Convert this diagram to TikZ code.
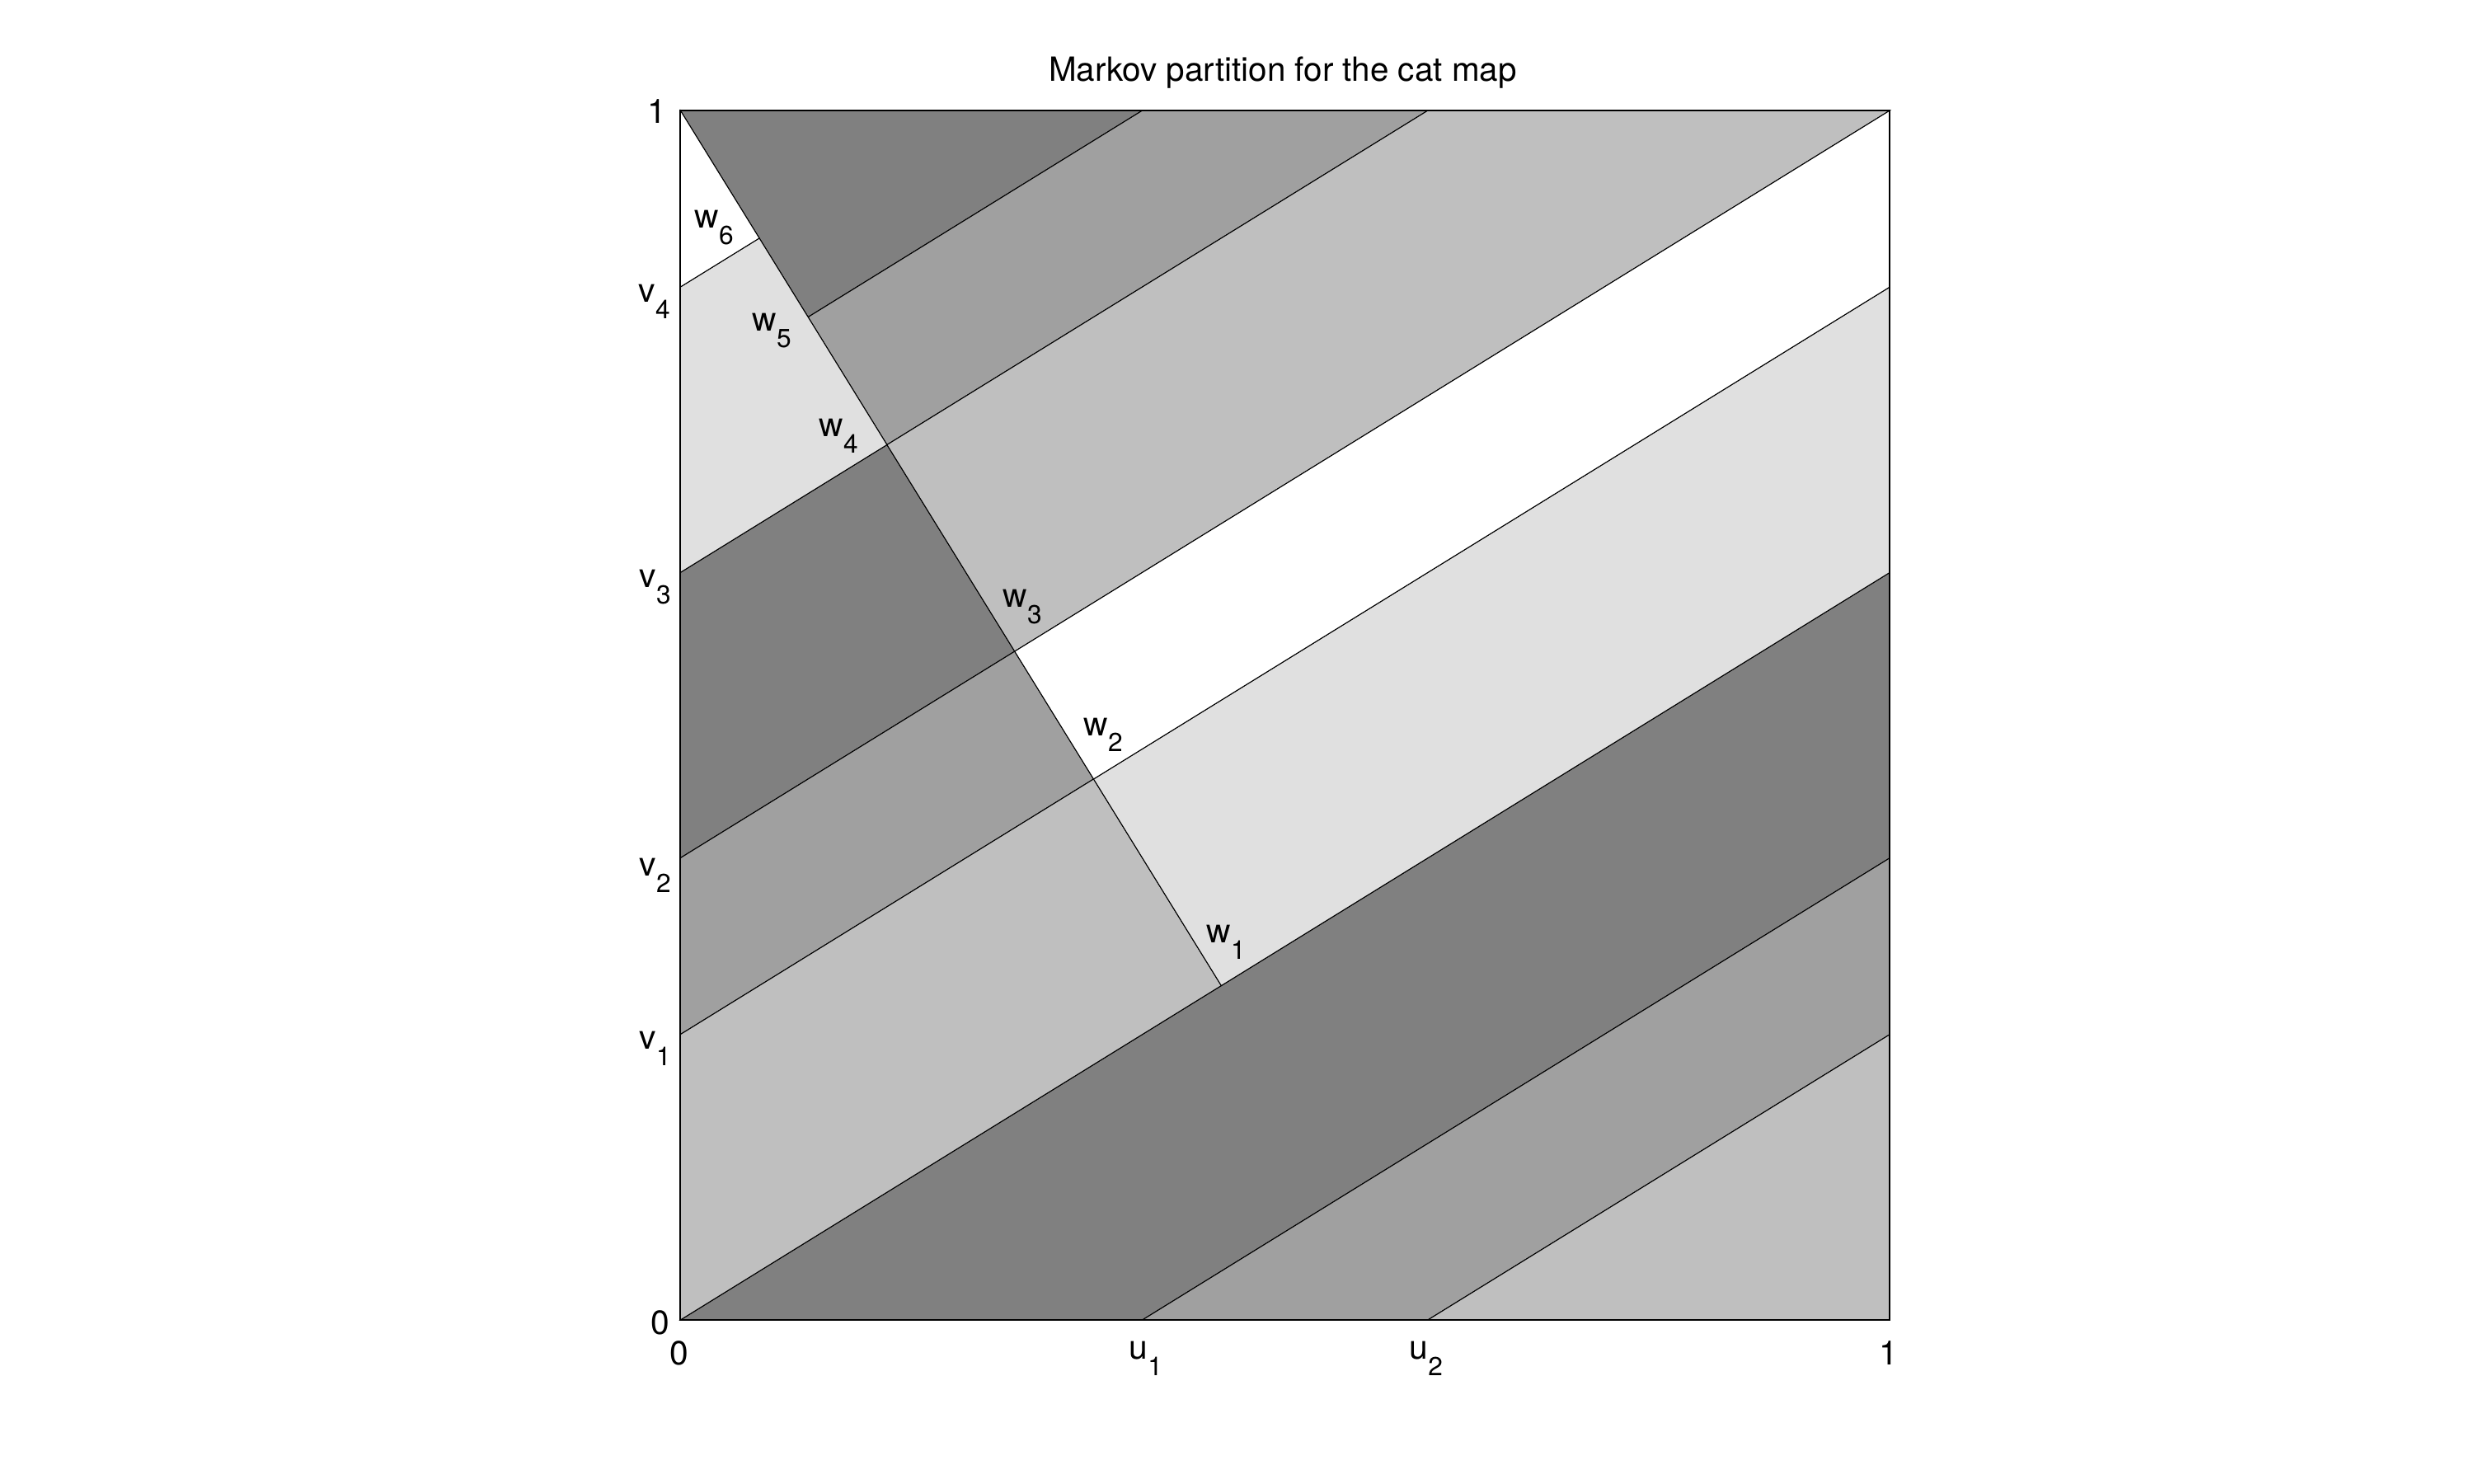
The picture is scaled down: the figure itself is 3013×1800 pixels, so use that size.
\documentclass[tikz,border=0pt]{standalone}
\usepackage{fontspec}
\newfontfamily\helv{TeX Gyre Heros}
\newcommand\lblfont{\helv\fontsize{11.6}{13}\selectfont}
\newcommand\ttlfont{\helv\fontsize{11.5}{13}\selectfont}
\newcommand\subfont{\helv\fontsize{9}{10}\selectfont}
\newcommand\sublab[2]{#1\raisebox{-2mm}{\subfont #2}}
\definecolor{gA}{gray}{0.5}
\definecolor{gB}{gray}{0.627}
\definecolor{gC}{gray}{0.75}
\definecolor{gD}{gray}{0.878}
\tikzset{
  edge/.style={draw=black, line width=0.3pt, line join=miter},
  frame/.style={draw=black, line width=0.55pt},
  lab/.style={anchor=base west, inner sep=0pt, font=\lblfont},
  tick/.style={inner sep=0pt, font=\lblfont}
}
\begin{document}
\begin{tikzpicture}[x=0.1mm,y=-0.1mm]
\useasboundingbox (0,0) rectangle (3013,1800);
\fill[white] (0,0) rectangle (3013,1800);
\begin{scope}[shift={(825.3,1601)}, x=146.7mm, y=146.7mm]
  \coordinate (O) at (0,0);
  \coordinate (A) at (1,0);
  \coordinate (B) at (1,1);
  \coordinate (C) at (0,1);
  \coordinate (U1) at (0.381966,0);
  \coordinate (U2) at (0.618034,0);
  \coordinate (R1) at (1,0.236068);
  \coordinate (R2) at (1,0.381966);
  \coordinate (R3) at (1,0.618034);
  \coordinate (R4) at (1,0.854102);
  \coordinate (V1) at (0,0.236068);
  \coordinate (V2) at (0,0.381966);
  \coordinate (V3) at (0,0.618034);
  \coordinate (V4) at (0,0.854102);
  \coordinate (T1) at (0.381966,1);
  \coordinate (T2) at (0.618034,1);
  \coordinate (W1) at (0.447214,0.276393);
  \coordinate (W2) at (0.341641,0.447214);
  \coordinate (W3) at (0.276393,0.552786);
  \coordinate (W4) at (0.170820,0.723607);
  \coordinate (W5) at (0.105573,0.829180);
  \coordinate (W6) at (0.065248,0.894427);
  % dark
  \filldraw[edge, fill=gA] (C) -- (T1) -- (W5) -- cycle;
  \filldraw[edge, fill=gA] (V2) -- (W3) -- (W4) -- (V3) -- cycle;
  \filldraw[edge, fill=gA] (O) -- (U1) -- (R2) -- (R3) -- cycle;
  % medium
  \filldraw[edge, fill=gB] (T1) -- (T2) -- (W4) -- (W5) -- cycle;
  \filldraw[edge, fill=gB] (V1) -- (W2) -- (W3) -- (V2) -- cycle;
  \filldraw[edge, fill=gB] (U1) -- (U2) -- (R1) -- (R2) -- cycle;
  % light
  \filldraw[edge, fill=gC] (T2) -- (B) -- (W3) -- (W4) -- cycle;
  \filldraw[edge, fill=gC] (O) -- (W1) -- (W2) -- (V1) -- cycle;
  \filldraw[edge, fill=gC] (U2) -- (A) -- (R1) -- cycle;
  % lighter
  \filldraw[edge, fill=gD] (V3) -- (W4) -- (W5) -- (W6) -- (V4) -- cycle;
  \filldraw[edge, fill=gD] (W1) -- (R3) -- (R4) -- (W2) -- cycle;
  % white
  \filldraw[edge, fill=white] (V4) -- (W6) -- (C) -- cycle;
  \filldraw[edge, fill=white] (W2) -- (R4) -- (B) -- (W3) -- cycle;
  \draw[frame] (O) rectangle (B);
\end{scope}
% title
\node[anchor=base, inner sep=0pt, font=\ttlfont] (title) at (1556,99) {Markov partition for the cat map};
% y tick labels
\node[tick, anchor=base east] (y1) at (809,150) {1};
\node[tick, anchor=base east] (y0) at (813,1618) {0};
\node[lab] (v4) at (774,367) {\sublab{v}{4}};
\node[lab] (v3) at (775,712) {\sublab{v}{3}};
\node[lab] (v2) at (775,1062) {\sublab{v}{2}};
\node[lab] (v1) at (775,1272) {\sublab{v}{1}};
% x tick labels
\node[tick, anchor=base] (x0) at (824,1655) {0};
\node[tick, anchor=base] (x1) at (2291,1655) {1};
\node[lab] (u1) at (1369,1648) {\sublab{u}{1}};
\node[lab] (u2) at (1709,1648) {\sublab{u}{2}};
% w labels
\node[lab] (w6) at (842,277) {\sublab{w}{6}};
\node[lab] (w5) at (912,402) {\sublab{w}{5}};
\node[lab] (w4) at (993,530) {\sublab{w}{4}};
\node[lab] (w3) at (1216,737) {\sublab{w}{3}};
\node[lab] (w2) at (1314,892) {\sublab{w}{2}};
\node[lab] (w1) at (1463,1143) {\sublab{w}{1}};
\end{tikzpicture}
\end{document}
